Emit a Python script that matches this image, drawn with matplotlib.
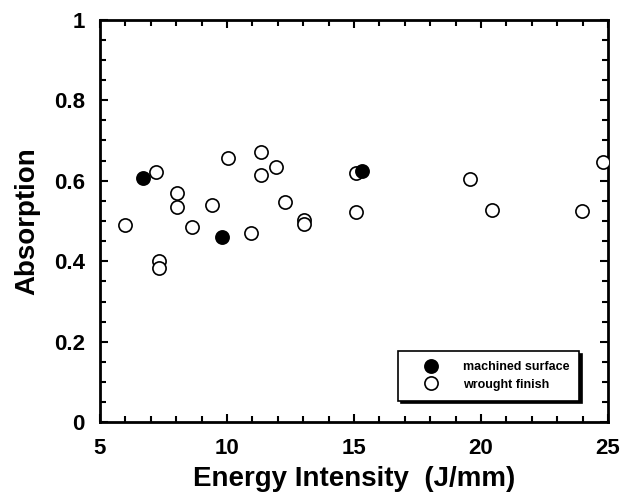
import matplotlib.pyplot as plt
from matplotlib.ticker import MultipleLocator

plt.rcParams['font.family'] = ['Liberation Sans', 'DejaVu Sans']
plt.rcParams['font.weight'] = 'bold'

# machined surface (filled circles)
machined_x = [6.71, 9.79, 15.30]
machined_y = [0.607, 0.461, 0.624]

# wrought finish (open circles)
wrought_x = [5.98, 7.20, 8.03, 8.03, 7.34, 7.34, 8.63, 9.40, 10.04, 10.94,
             11.34, 11.34, 11.93, 12.28, 13.04, 13.04, 15.08, 15.08,
             19.57, 20.42, 23.96, 24.81]
wrought_y = [0.490, 0.621, 0.570, 0.535, 0.401, 0.384, 0.486, 0.539, 0.656, 0.469,
             0.670, 0.615, 0.635, 0.546, 0.502, 0.492, 0.618, 0.523,
             0.605, 0.527, 0.526, 0.646]

fig = plt.figure(figsize=(6.36, 4.95), dpi=100)
ax = fig.add_axes([0.1572, 0.1465, 0.7988, 0.8141])

ax.plot(wrought_x, wrought_y, 'o', mfc='white', mec='black', mew=1.2, ms=9.5,
        label='wrought finish', zorder=3)
ax.plot(machined_x, machined_y, 'o', mfc='black', mec='black', mew=1.2, ms=9.5,
        label='machined surface', zorder=4)

ax.set_xlim(5, 25)
ax.set_ylim(0, 1)
ax.xaxis.set_major_locator(MultipleLocator(5))
ax.xaxis.set_minor_locator(MultipleLocator(1))
ax.yaxis.set_major_locator(MultipleLocator(0.2))
ax.yaxis.set_minor_locator(MultipleLocator(0.05))
ax.set_yticks([0, 0.2, 0.4, 0.6, 0.8, 1])
ax.set_yticklabels(['0', '0.2', '0.4', '0.6', '0.8', '1'])

ax.tick_params(which='both', direction='in', top=True, right=True, width=1.5)
ax.tick_params(which='major', length=6, labelsize=16)
ax.tick_params(axis='x', which='major', pad=11)
ax.tick_params(axis='y', which='major', pad=11)
ax.tick_params(which='minor', length=4)
for s in ax.spines.values():
    s.set_linewidth(2)

ax.set_xlabel('Energy Intensity  (J/mm)', fontsize=20, fontweight='bold', labelpad=5)
ax.set_ylabel('Absorption', fontsize=20, fontweight='bold', labelpad=10)

h, l = ax.get_legend_handles_labels()
leg = ax.legend(h[::-1], l[::-1], loc='lower right', bbox_to_anchor=(0.943, 0.054),
                fontsize=9, frameon=True, fancybox=False, handletextpad=0.65,
                borderpad=0.8, labelspacing=0.45, borderaxespad=0,
                handlelength=3.7, markerscale=1.0,
                shadow={'color': 'black', 'alpha': 1})
leg.get_frame().set_edgecolor('black')
leg.get_frame().set_linewidth(1.2)

fig.savefig('out.png', dpi=100)
